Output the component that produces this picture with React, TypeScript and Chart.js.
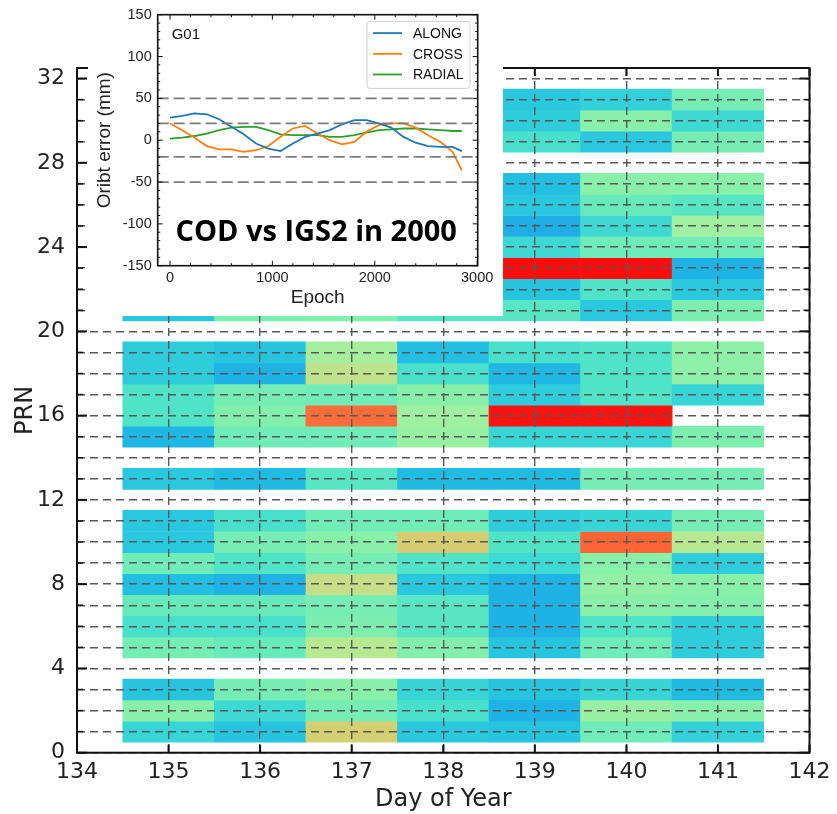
import React, { useEffect, useRef } from "react";
import { Chart, registerables } from "chart.js";

Chart.register(...registerables);

// ---- Heat map: orbit RMS per satellite and day ----
const DAYS = [135, 136, 137, 138, 139, 140, 141];
const PRNS = [
  1, 2, 3, 4, 5, 6, 7, 8, 9, 10, 11, 12, 13, 14, 15, 16,
  17, 18, 19, 20, 21, 22, 23, 24, 25, 26, 27, 28, 29, 30, 31, 32,
];

// RMS (mm) for each PRN (index = PRN - 1); null = no orbit
const RMS_DOY135 = [20, 32, 16, null, 29, 23, 27, 15, 28, 17, 17, null, 17, null, 13, 24, 24, 18, 18, null, 17, null, null, null, null, null, null, null, null, null, null, null];
const RMS_DOY136 = [16, 21, 29, null, 27, 23, 27, 12, 24, 29, 23, null, 14, null, 28, 31, 29, 12, 16, null, 30, null, null, null, null, null, null, null, null, null, null, null];
const RMS_DOY137 = [49, 29, 32, null, 40, 30, 29, 44, 29, 32, 28, null, 25, null, 28, 70, 28, 42, 37, null, 31, null, null, null, null, null, null, null, null, null, null, null];
const RMS_DOY138 = [17, 23, 20, null, 31, 25, 25, 17, 24, 50, 28, null, 14, null, 35, 36, 32, 23, 15, null, 25, null, null, null, null, null, null, null, null, null, null, null];
const RMS_DOY139 = [16, 12, 16, null, 16, 12, 12, 12, 21, 24, 18, null, 14, null, 20, 85, 18, 13, 23, null, 25, 16, 86, 21, 11, 17, 15, null, 23, 18, 17, null];
const RMS_DOY140 = [28, 35, 20, null, 28, 24, 32, 34, 32, 72, 20, null, 29, null, 20, 85, 24, 24, 24, null, 17, 24, 86, 28, 21, 27, 32, null, 17, 32, 19, null];
const RMS_DOY141 = [19, 32, 14, null, 18, 18, 31, 32, 18, 40, 29, null, 29, null, 30, null, 20, 33, 33, null, 30, 17, 12, 28, 36, 25, 32, null, 29, 21, 29, null];
const RMS_BY_DAY = [RMS_DOY135, RMS_DOY136, RMS_DOY137, RMS_DOY138, RMS_DOY139, RMS_DOY140, RMS_DOY141];

const X_TICKS = [134, 135, 136, 137, 138, 139, 140, 141, 142];
const ROW_LINES = [
  0, 1, 2, 3, 4, 5, 6, 7, 8, 9, 10, 11, 12, 13, 14, 15, 16,
  17, 18, 19, 20, 21, 22, 23, 24, 25, 26, 27, 28, 29, 30, 31, 32,
];
const Y_TICK_LABELS = [0, 4, 8, 12, 16, 20, 24, 28, 32];

// ---- Inset: G01 orbit differences (mm) ----
const EPOCHS = [0, 120, 240, 360, 480, 600, 720, 840, 960, 1080, 1200, 1320, 1440, 1560, 1680, 1800, 1920, 2040, 2160, 2280, 2400, 2520, 2640, 2760, 2850];
const ALONG = [27, 29, 32, 31, 25, 16, 7, -4, -10, -13, -4, 4, 8, 12, 19, 24, 24, 20, 15, 4, -3, -7, -8, -8, -13];
const CROSS = [20, 12, 3, -7, -11, -11, -14, -12, -7, 4, 14, 17, 8, 0, -5, -2, 10, 18, 20, 20, 15, 6, -2, -14, -36];
const RADIAL = [2, 3, 5, 8, 12, 15, 16, 16, 12, 7, 6, 6, 6, 4, 4, 6, 9, 12, 13, 14, 14, 13, 12, 11, 11];
const REF_LEVELS = [50, 20, -20, -50];
const INSET_X_TICKS = [0, 1000, 2000, 3000];
const INSET_Y_TICKS = [-150, -100, -50, 0, 50, 100, 150];
const INSET_X_MIN = -120;
const INSET_X_MAX = 3005;

// ---- colour map for the RMS cells ----
const RMS_STOPS = [10, 14, 17, 20, 24, 28, 32, 36, 40, 45, 50, 60, 72, 86];
const RMS_COLORS = [
  "#1ca9e6", "#20bbe3", "#2ac8df", "#38d5d6", "#4fe3c7", "#6fecb7", "#89f0a9",
  "#9ff0a0", "#b7e892", "#c9dc84", "#d8cc70", "#f59452", "#ff6434", "#ff0d0d",
];

function hexRgb(h: string): number[] {
  return [1, 3, 5].map((i) => parseInt(h.slice(i, i + 2), 16));
}

function rmsColor(v: number): string {
  if (v <= RMS_STOPS[0]) return RMS_COLORS[0];
  for (let i = 1; i < RMS_STOPS.length; i++) {
    if (v <= RMS_STOPS[i]) {
      const t = (v - RMS_STOPS[i - 1]) / (RMS_STOPS[i] - RMS_STOPS[i - 1]);
      const a = hexRgb(RMS_COLORS[i - 1]);
      const b = hexRgb(RMS_COLORS[i]);
      const c = a.map((av, k) => Math.round(av + (b[k] - av) * t));
      return `rgb(${c[0]},${c[1]},${c[2]})`;
    }
  }
  return RMS_COLORS[RMS_COLORS.length - 1];
}

function buildCells() {
  const cells: { x: number[]; y: number; v: number }[] = [];
  DAYS.forEach((day, d) => {
    RMS_BY_DAY[d].forEach((v, i) => {
      if (v === null) return;
      cells.push({ x: [day - 0.5, day + 0.5], y: PRNS[i], v: v as number });
    });
  });
  return cells;
}

// inward tick marks and a solid frame around the heat map
const mainFrame = {
  id: "mainFrame",
  afterDraw(chart: any) {
    const { ctx, chartArea: a, scales } = chart;
    ctx.save();
    ctx.strokeStyle = "#111";
    ctx.lineCap = "butt";
    const seg = (x1: number, y1: number, x2: number, y2: number, w: number) => {
      ctx.lineWidth = w;
      ctx.beginPath();
      ctx.moveTo(x1, y1);
      ctx.lineTo(x2, y2);
      ctx.stroke();
    };
    for (const v of X_TICKS) {
      const px = scales.x.getPixelForValue(v);
      seg(px, a.bottom, px, a.bottom - 8, 2);
      seg(px, a.top, px, a.top + 8, 2);
    }
    for (const v of ROW_LINES) {
      const py = scales.y.getPixelForValue(v);
      const major = Y_TICK_LABELS.includes(v);
      const len = major ? 10 : 6;
      const w = major ? 2 : 1.5;
      seg(a.left, py, a.left + len, py, w);
      seg(a.right, py, a.right - len, py, w);
    }
    ctx.lineWidth = 2;
    ctx.strokeRect(a.left, a.top, a.right - a.left, a.bottom - a.top);
    ctx.restore();
  },
};

// inset frame, ticks, legend and captions
const insetDecor = {
  id: "insetDecor",
  afterDraw(chart: any) {
    const { ctx, chartArea: a, scales } = chart;
    const xs = scales.x;
    const ys = scales.y;
    ctx.save();
    ctx.strokeStyle = "#111";
    const seg = (x1: number, y1: number, x2: number, y2: number, w: number) => {
      ctx.lineWidth = w;
      ctx.beginPath();
      ctx.moveTo(x1, y1);
      ctx.lineTo(x2, y2);
      ctx.stroke();
    };
    for (let v = 0; v <= INSET_X_MAX; v += 200) {
      const px = xs.getPixelForValue(v);
      const major = INSET_X_TICKS.includes(v);
      const len = major ? 5 : 2.5;
      seg(px, a.bottom, px, a.bottom - len, 1);
      seg(px, a.top, px, a.top + len, 1);
    }
    for (let v = -150; v <= 150; v += 10) {
      const py = ys.getPixelForValue(v);
      const major = INSET_Y_TICKS.includes(v);
      const len = major ? 5 : 2.5;
      seg(a.left, py, a.left + len, py, 1);
      seg(a.right, py, a.right - len, py, 1);
    }
    ctx.lineWidth = 1.6;
    ctx.strokeRect(a.left, a.top, a.right - a.left, a.bottom - a.top);

    // satellite name
    ctx.fillStyle = "#111";
    ctx.font = '15px "Liberation Sans"';
    ctx.textAlign = "left";
    ctx.textBaseline = "middle";
    ctx.fillText("G01", a.left + 14, a.top + 20);

    // legend box
    const bw = 103;
    const bh = 67;
    const bx = a.right - 7.7 - bw;
    const by = a.top + 6.7;
    ctx.fillStyle = "rgba(255,255,255,0.85)";
    ctx.strokeStyle = "#cfcfcf";
    ctx.lineWidth = 1;
    ctx.beginPath();
    (ctx as any).roundRect(bx, by, bw, bh, 3);
    ctx.fill();
    ctx.stroke();
    const items = chart.data.datasets.filter((d: any) => d.label);
    ctx.font = '14px "Liberation Sans"';
    items.forEach((d: any, i: number) => {
      const yy = by + 11.7 + i * 20.7;
      ctx.strokeStyle = d.borderColor;
      ctx.lineWidth = 1.8;
      ctx.beginPath();
      ctx.moveTo(bx + 6, yy);
      ctx.lineTo(bx + 35, yy);
      ctx.stroke();
      ctx.fillStyle = "#111";
      ctx.fillText(d.label, bx + 46, yy + 1);
    });

    // caption
    ctx.fillStyle = "#000";
    ctx.font = 'bold 29px "Open Sans"';
    ctx.textAlign = "center";
    ctx.textBaseline = "alphabetic";
    ctx.fillText("COD vs IGS2 in 2000", (a.left + a.right) / 2 - 1.5, 241);
    ctx.restore();
  },
};

function mainConfig(): any {
  const axisFont = { family: '"DejaVu Sans"', size: 22 };
  const gridColor = "#585858";
  return {
    type: "bar",
    data: {
      datasets: [
        {
          data: buildCells(),
          backgroundColor: (c: any) => (c.raw ? rmsColor(c.raw.v) : "#fff"),
          borderWidth: 0,
          barPercentage: 1,
          categoryPercentage: 1,
        },
      ],
    },
    options: {
      indexAxis: "y",
      responsive: false,
      animation: false,
      devicePixelRatio: 1,
      events: [],
      layout: { padding: { left: 0, top: 68, right: 25.3, bottom: 0 } },
      plugins: { legend: { display: false }, tooltip: { enabled: false } },
      scales: {
        x: {
          type: "linear",
          position: "bottom",
          min: 134,
          max: 142,
          afterBuildTicks: (s: any) => {
            s.ticks = X_TICKS.map((value) => ({ value }));
          },
          afterFit: (s: any) => {
            s.height = 61.3;
          },
          grid: { color: gridColor, lineWidth: 1.4, drawTicks: false, z: 1 },
          border: { display: false, dash: [8, 5] },
          ticks: {
            padding: 6.5,
            color: "#222",
            font: axisFont,
            autoSkip: false,
            maxRotation: 0,
            callback: (v: any) => String(v),
          },
          title: {
            display: true,
            text: "Day of Year",
            color: "#222",
            font: { family: '"DejaVu Sans"', size: 24 },
            padding: { top: 0, bottom: 0 },
          },
        },
        y: {
          type: "linear",
          position: "left",
          min: 0,
          max: 32.5,
          offset: false,
          afterBuildTicks: (s: any) => {
            s.ticks = ROW_LINES.map((value) => ({ value }));
          },
          afterFit: (s: any) => {
            s.width = 77;
          },
          grid: { color: gridColor, lineWidth: 1.4, drawTicks: false, offset: false, z: 1 },
          border: { display: false, dash: [8, 5] },
          ticks: {
            padding: 12,
            color: "#222",
            font: axisFont,
            autoSkip: false,
            callback: (v: any) => (Y_TICK_LABELS.includes(v) ? String(v) : ""),
          },
          title: {
            display: true,
            text: "PRN",
            color: "#222",
            font: { family: '"DejaVu Sans"', size: 24 },
            padding: { top: 11, bottom: 0 },
          },
        },
      },
    },
    plugins: [mainFrame],
  };
}

function insetConfig(): any {
  const tickFont = { family: '"Liberation Sans"', size: 14.5 };
  const series = (label: string, color: string, ys: number[]) => ({
    label,
    data: EPOCHS.map((x, i) => ({ x, y: ys[i] })),
    borderColor: color,
    borderWidth: 1.8,
    pointRadius: 0,
    tension: 0,
    fill: false,
  });
  return {
    type: "line",
    data: {
      datasets: [
        ...REF_LEVELS.map((level) => ({
          data: [
            { x: INSET_X_MIN, y: level },
            { x: INSET_X_MAX, y: level },
          ],
          borderColor: "#7a7a7a",
          borderWidth: 1.8,
          borderDash: [11, 5],
          pointRadius: 0,
          fill: false,
        })),
        series("ALONG", "#1f77b4", ALONG),
        series("CROSS", "#ff7f0e", CROSS),
        series("RADIAL", "#2ca02c", RADIAL),
      ],
    },
    options: {
      responsive: false,
      animation: false,
      devicePixelRatio: 1,
      events: [],
      layout: { padding: { left: 0, top: 14.3, right: 25.3, bottom: 0 } },
      plugins: { legend: { display: false }, tooltip: { enabled: false } },
      scales: {
        x: {
          type: "linear",
          min: INSET_X_MIN,
          max: INSET_X_MAX,
          afterBuildTicks: (s: any) => {
            s.ticks = INSET_X_TICKS.map((value) => ({ value }));
          },
          afterFit: (s: any) => {
            s.height = 50.3;
          },
          grid: { display: false, drawTicks: false },
          border: { display: false },
          ticks: {
            padding: 4,
            color: "#222",
            font: tickFont,
            autoSkip: false,
            maxRotation: 0,
            callback: (v: any) => String(v),
          },
          title: {
            display: true,
            text: "Epoch",
            color: "#222",
            font: { family: '"Liberation Sans"', size: 19 },
            padding: { top: 0, bottom: 7 },
          },
        },
        y: {
          type: "linear",
          min: -150,
          max: 150,
          afterBuildTicks: (s: any) => {
            s.ticks = INSET_Y_TICKS.map((value) => ({ value }));
          },
          afterFit: (s: any) => {
            s.width = 69.7;
          },
          grid: { display: false, drawTicks: false },
          border: { display: false },
          ticks: {
            padding: 6,
            color: "#222",
            font: tickFont,
            autoSkip: false,
            callback: (v: any) => String(v),
          },
          title: {
            display: true,
            text: "Oribt error (mm)",
            color: "#222",
            font: { family: '"Liberation Sans"', size: 19 },
            padding: { top: 5, bottom: 0 },
          },
        },
      },
    },
    plugins: [insetDecor],
  };
}

export default function App() {
  const mainRef = useRef<HTMLCanvasElement>(null);
  const insetRef = useRef<HTMLCanvasElement>(null);

  useEffect(() => {
    const main = new Chart(mainRef.current as HTMLCanvasElement, mainConfig());
    const inset = new Chart(insetRef.current as HTMLCanvasElement, insetConfig());
    return () => {
      main.destroy();
      inset.destroy();
    };
  }, []);

  return (
    <div style={{ position: "absolute", left: 0, top: 0, width: 837, height: 814, background: "#fff", overflow: "hidden" }}>
      <canvas ref={mainRef} width={837} height={814} style={{ position: "absolute", left: 0, top: 0 }} />
      <div style={{ position: "absolute", left: 88, top: 0, width: 415, height: 316, background: "#fff" }}>
        <canvas ref={insetRef} width={415} height={316} style={{ display: "block" }} />
      </div>
    </div>
  );
}
